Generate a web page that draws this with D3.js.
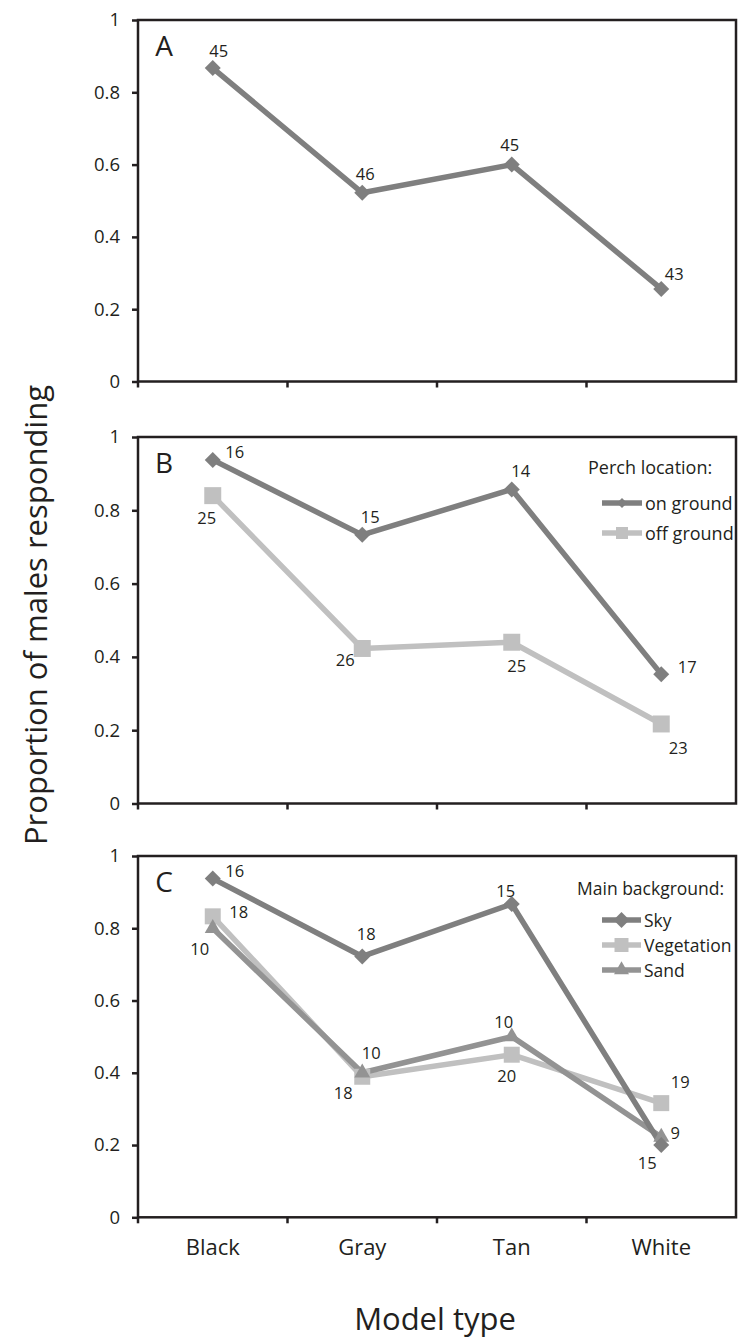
<!DOCTYPE html>
<html lang="en">
<head>
    <meta charset="UTF-8">
    <title>Proportion of males responding by model type</title>
    <script src="https://d3js.org/d3.v7.min.js"></script>
    <style>
        body { margin: 0; background: #fff; }
        text { font-family: "Open Sans", "Noto Sans", sans-serif; fill: #231f20; }
    </style>
</head>
<body>
<svg width="739" height="1342"></svg>

<script>
    // categories and tick labels
    const categories = ["Black", "Gray", "Tan", "White"];
    const yTicks = [0, 0.2, 0.4, 0.6, 0.8, 1];
    const yTickLabels = ["0", "0.2", "0.4", "0.6", "0.8", "1"];

    // panel A: all males
    const allMales = [0.867, 0.522, 0.600, 0.256];
    const allMalesN = [45, 46, 45, 43];

    // panel B: perch location
    const onGround = [0.9375, 0.733, 0.857, 0.353];
    const onGroundN = [16, 15, 14, 17];
    const offGround = [0.84, 0.423, 0.44, 0.217];
    const offGroundN = [25, 26, 25, 23];

    // panel C: main background
    const sky = [0.9375, 0.722, 0.867, 0.20];
    const skyN = [16, 18, 15, 15];
    const vegetation = [0.833, 0.389, 0.45, 0.316];
    const vegetationN = [18, 18, 20, 19];
    const sand = [0.80, 0.40, 0.50, 0.222];
    const sandN = [10, 10, 10, 9];

    const dark = "#7f7f7f", light = "#c0c0c0", mid = "#939393", ink = "#231f20";

    const svg = d3.select("svg");
    const plotLeft = 138, plotRight = 736;

    const x = d3.scaleBand()
        .domain(categories)
        .range([plotLeft, plotRight]);
    const cx = d => x(d) + x.bandwidth() / 2;

    // marker shapes
    const shapes = {
        diamond: (s) => d3.symbol().type(d3.symbolSquare).size(s * s / 2)(),
        square: (s) => d3.symbol().type(d3.symbolSquare).size(s * s)(),
        triangle: (s) => d3.symbol().type(d3.symbolTriangle).size(s * s * Math.sqrt(3) / 4)()
    };
    const rot = shape => shape === "diamond" ? " rotate(45)" : "";

    const panels = [
        {
            letter: "A", top: 20, bottom: 381.5,
            series: [
                {values: allMales, n: allMalesN, color: dark, shape: "diamond", size: 16,
                 offsets: [[6, -18], [3, -19], [-2, -20], [13, -15]]}
            ]
        },
        {
            letter: "B", top: 437, bottom: 803.5,
            legend: {title: "Perch location:", tx: 588, ty: 467, x1: 602, x2: 642, rows: [503, 533], size: 18,
                     labels: ["on ground", "off ground"], markers: [10, 12]},
            series: [
                {values: offGround, n: offGroundN, color: light, shape: "square", size: 17,
                 offsets: [[-6, 22], [-17, 11], [5, 23], [17, 24]]},
                {values: onGround, n: onGroundN, color: dark, shape: "diamond", size: 16,
                 offsets: [[22, -8], [8, -18], [9, -19], [26, -8]]}
            ],
            legendOrder: [1, 0]
        },
        {
            letter: "C", top: 856, bottom: 1217.3,
            legend: {title: "Main background:", tx: 577, ty: 888, x1: 602, x2: 641, rows: [920, 945, 970], size: 17.5,
                     labels: ["Sky", "Vegetation", "Sand"], markers: [16, 14, 15]},
            series: [
                {values: vegetation, n: vegetationN, color: light, shape: "square", size: 16,
                 offsets: [[26, -5], [-19, 16], [-5, 21], [19, -22]]},
                {values: sand, n: sandN, color: mid, shape: "triangle", size: 16,
                 offsets: [[-13, 20], [9, -20], [-8, -15], [14, -5]]},
                {values: sky, n: skyN, color: dark, shape: "diamond", size: 16,
                 offsets: [[22, -8], [4, -23], [-6, -14], [-14, 17]]}
            ],
            legendOrder: [2, 0, 1]
        }
    ];

    panels.forEach((p, pi) => {
        const y = d3.scaleLinear().domain([0, 1]).range([p.bottom, p.top]);
        const g = svg.append("g");

        // frame
        g.append("rect")
            .attr("x", plotLeft).attr("y", p.top)
            .attr("width", plotRight - plotLeft).attr("height", p.bottom - p.top)
            .attr("fill", "none").attr("stroke", ink).attr("stroke-width", 2.5);

        // y axis
        const yAxis = g.append("g")
            .attr("transform", `translate(${plotLeft},0)`)
            .call(d3.axisLeft(y).tickValues(yTicks).tickSize(6).tickPadding(12)
                .tickFormat((d, i) => yTickLabels[i]));
        yAxis.select(".domain").remove();
        yAxis.selectAll(".tick line").attr("stroke", ink).attr("stroke-width", 2.5);
        yAxis.selectAll(".tick text").attr("font-family", null).style("font-size", "18.5px");

        // x axis ticks at category boundaries
        const xAxis = g.append("g")
            .attr("transform", `translate(0,${p.bottom})`)
            .call(d3.axisBottom(x).tickSize(6).tickFormat((d) => pi === 2 ? d : ""));
        xAxis.select(".domain").remove();
        xAxis.selectAll(".tick line")
            .attr("transform", `translate(${-x.bandwidth() / 2},0)`)
            .attr("stroke", ink).attr("stroke-width", 2.5);
        xAxis.selectAll(".tick text")
            .attr("font-family", null)
            .attr("y", 22)
            .style("font-size", "22px");

        // panel letter
        g.append("text")
            .attr("x", 164).attr("y", p.top + 25)
            .attr("text-anchor", "middle").attr("dominant-baseline", "central")
            .style("font-size", "28px")
            .text(p.letter);

        const line = d3.line()
            .x((d, i) => cx(categories[i]))
            .y(d => y(d));

        p.series.forEach(s => {
            g.append("path")
                .datum(s.values)
                .attr("d", line)
                .attr("fill", "none")
                .attr("stroke", s.color)
                .attr("stroke-width", 5.5)
                .attr("stroke-linejoin", "round");
        });
        p.series.forEach(s => {
            g.selectAll(null)
                .data(s.values)
                .join("path")
                .attr("d", shapes[s.shape](s.size))
                .attr("transform", (d, i) => `translate(${cx(categories[i])},${y(d)})${rot(s.shape)}`)
                .attr("fill", s.color);
        });
        p.series.forEach(s => {
            g.selectAll(null)
                .data(s.values)
                .join("text")
                .attr("x", (d, i) => cx(categories[i]) + s.offsets[i][0])
                .attr("y", (d, i) => y(d) + s.offsets[i][1])
                .attr("text-anchor", "middle")
                .attr("dominant-baseline", "central")
                .style("font-size", "16.5px")
                .text((d, i) => s.n[i]);
        });

        // legend
        if (p.legend) {
            const L = p.legend;
            const lg = g.append("g");
            lg.append("text")
                .attr("x", L.tx).attr("y", L.ty)
                .attr("dominant-baseline", "central")
                .style("font-size", L.size + "px")
                .text(L.title);
            p.legendOrder.forEach((si, k) => {
                const s = p.series[si];
                const ry = L.rows[k];
                lg.append("line")
                    .attr("x1", L.x1).attr("x2", L.x2)
                    .attr("y1", ry).attr("y2", ry)
                    .attr("stroke", s.color).attr("stroke-width", 5.5);
                lg.append("path")
                    .attr("d", shapes[s.shape](L.markers[k]))
                    .attr("transform", `translate(${(L.x1 + L.x2) / 2},${ry})${rot(s.shape)}`)
                    .attr("fill", s.color);
                lg.append("text")
                    .attr("x", L.x2 + 3).attr("y", ry)
                    .attr("dominant-baseline", "central")
                    .style("font-size", L.size + "px")
                    .text(L.labels[k]);
            });
        }
    });

    // axis titles
    svg.append("text")
        .attr("x", 435).attr("y", 1318)
        .attr("text-anchor", "middle").attr("dominant-baseline", "central")
        .style("font-size", "31px")
        .text("Model type");

    svg.append("text")
        .attr("transform", "translate(35,615) rotate(-90)")
        .attr("text-anchor", "middle").attr("dominant-baseline", "central")
        .style("font-size", "31px")
        .text("Proportion of males responding");
</script>
</body>
</html>
